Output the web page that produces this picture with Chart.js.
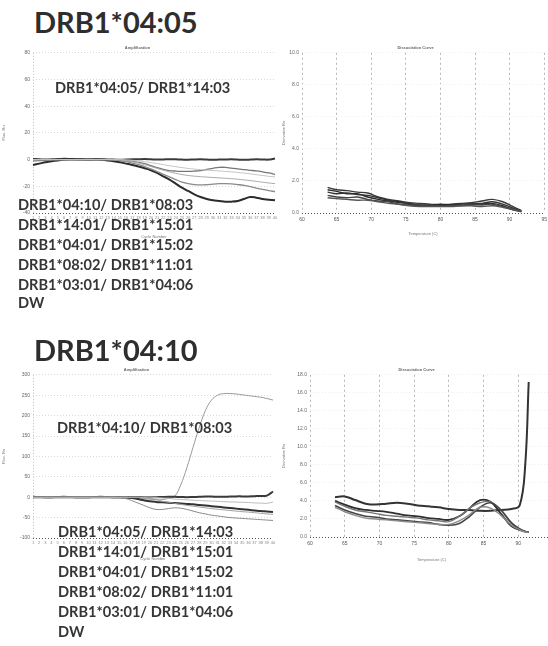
<!DOCTYPE html>
<html>
<head>
<meta charset="utf-8">
<script src="https://cdn.jsdelivr.net/npm/chart.js@4"></script>
<style>
  html, body { margin: 0; padding: 0; background: #fff; }
  body { width: 548px; height: 646px; position: relative; overflow: hidden; font-family: Lato, "Open Sans", sans-serif; }
  canvas { position: absolute; }
  .big { position: absolute; font-weight: 700; color: #2e2e2e; font-size: 29px; line-height: 35px; white-space: nowrap; }
  .lbl { position: absolute; font-weight: 700; color: #363636; font-size: 14.6px; line-height: 20px; white-space: nowrap; }
</style>
</head>
<body>
<canvas id="ampTop" width="280" height="200" style="left:0;top:40px"></canvas>
<canvas id="meltTop" width="271" height="200" style="left:280px;top:40px"></canvas>
<canvas id="ampBot" width="280" height="200" style="left:0;top:362px"></canvas>
<canvas id="meltBot" width="280" height="204" style="left:280px;top:362px"></canvas>

<div class="big" style="left:34px;top:4px">DRB1*04:05</div>
<div class="lbl" style="left:55px;top:78px">DRB1*04:05/ DRB1*14:03</div>
<div class="lbl" style="left:18px;top:195px">DRB1*04:10/ DRB1*08:03</div>
<div class="lbl" style="left:18px;top:215px">DRB1*14:01/ DRB1*15:01</div>
<div class="lbl" style="left:18px;top:235px">DRB1*04:01/ DRB1*15:02</div>
<div class="lbl" style="left:18px;top:255px">DRB1*08:02/ DRB1*11:01</div>
<div class="lbl" style="left:18px;top:275px">DRB1*03:01/ DRB1*04:06</div>
<div class="lbl" style="left:18px;top:293px">DW</div>

<div class="big" style="left:34px;top:332px">DRB1*04:10</div>
<div class="lbl" style="left:57px;top:418px">DRB1*04:10/ DRB1*08:03</div>
<div class="lbl" style="left:58px;top:522px">DRB1*04:05/ DRB1*14:03</div>
<div class="lbl" style="left:58px;top:542px">DRB1*14:01/ DRB1*15:01</div>
<div class="lbl" style="left:58px;top:562px">DRB1*04:01/ DRB1*15:02</div>
<div class="lbl" style="left:58px;top:582px">DRB1*08:02/ DRB1*11:01</div>
<div class="lbl" style="left:58px;top:602px">DRB1*03:01/ DRB1*04:06</div>
<div class="lbl" style="left:58px;top:622px">DW</div>

<script>
// cycles and ticks
const cycles = [1,2,3,4,5,6,7,8,9,10,11,12,13,14,15,16,17,18,19,20,21,22,23,24,25,26,27,28,29,30,31,32,33,34,35,36,37,38,39,40];
const ampTopYTicks = [-40, -20, 0, 20, 40, 60, 80];
const ampBotYTicks = [-100, -50, 0, 50, 100, 150, 200, 250, 300];
const meltXTicks = [60, 65, 70, 75, 80, 85, 90, 95];
const meltTopYTicks = [0, 2, 4, 6, 8, 10];
const meltBotYTicks = [0, 2, 4, 6, 8, 10, 12, 14, 16, 18];

// DRB1*04:05 amplification
const ampTopFlat = [0.5,0.3,0,0.2,0.4,0.6,0.5,0.3,0.2,0,0.2,0.3,0.1,0,-0.2,0,0.2,0.3,0.4,0.2,0,0.1,0.3,0.2,0,-0.1,0.1,0.2,0,-0.2,0,0.1,0.2,0,-0.1,0,0.2,0.1,0,0.8];
const ampTopDark = [-4,-3,-2,-1.2,-0.6,-0.2,0,0,0,0,0,-0.2,-0.6,-1.2,-2,-3,-4,-5.2,-6.5,-8,-10,-12.5,-15,-18,-21,-23.5,-26,-28,-29.5,-30.5,-31,-31.5,-31.5,-31,-29.5,-28,-28.5,-29.5,-30,-30.5];
const ampTopMid = [-1,-0.8,-0.5,-0.2,0,0,0,0,0,0,0,0,0,-0.2,-0.4,-0.8,-1.3,-2,-3,-4.5,-6,-7.3,-8.2,-8.6,-8.8,-8.8,-8.6,-8.2,-7.4,-6.5,-5.8,-5.8,-6.4,-7,-7.5,-8,-8.5,-9.2,-10,-11];
const ampTopLow = [0,0,0,0,0,0,0,0,0,0,0,0,0,-0.3,-0.8,-1.6,-2.6,-3.8,-5.2,-7,-9,-11,-13,-15,-16.8,-18,-18.7,-19,-18.8,-18.3,-18,-18,-18.2,-18.7,-19.3,-20.2,-21.3,-22.3,-23.2,-24];
const ampTopLight = [0,0,0,0,0,0,0,0,0,0,0,0,0,0,-0.3,-0.8,-1.6,-2.6,-3.8,-5.2,-6.6,-8,-9.2,-10.3,-11.2,-11.9,-12.4,-12.8,-13.1,-13.4,-13.7,-14,-14.3,-14.7,-15.2,-15.7,-16.3,-16.9,-17.5,-18];
const ampTopFaint = [0,0,0,0,0,0,0,0,0,0,0,0,0,0,0,-0.2,-0.5,-1,-1.6,-2.3,-3,-3.8,-4.6,-5.3,-6,-6.6,-7.1,-7.5,-7.9,-8.2,-8.5,-8.8,-9.2,-9.6,-10.1,-10.7,-11.3,-11.9,-12.5,-13];

// DRB1*04:10 amplification
const ampBotRise = [0,0,0,0,0,0,0,0,0,0,0,0,0,0,0,-1,-2,-3,-4,-5,-6,-6,-3,2,30,72,122,170,212,238,250,254,254,253,251,249,247,245,242,238];
const ampBotFlat = [1,0.5,0,0,0.5,1,0.5,0,0,0,0.5,1,0.5,0,0,0,0.5,0.5,0,0,0,0.5,1,1,0.5,0,0.5,1,1.5,1.5,1,1,1.5,2,2,2,2.5,3,4,14];
const ampBotDark = [0,0,0,0,0,0,0,0,0,0,0,0,0,0,0,-0.5,-2,-4.5,-7.5,-10,-11.5,-12.5,-13.5,-14.5,-15.5,-16.5,-17.5,-19,-20.5,-22,-23.5,-25,-26.5,-28,-29.5,-31,-32.5,-34,-35,-36];
const ampBotDip = [0,0,0,0,0,0,0,0,0,0,0,0,0,0,-1,-3,-8,-14,-20,-26,-30,-30,-28,-26,-27,-30,-34,-38,-41,-44,-46,-48,-50,-51,-52,-53,-54,-55,-56,-57];
const ampBotLight = [0,0,0,0,0,0,0,0,0,0,0,0,0,0,0,0,0,0,-1,-3,-6,-10,-12.5,-15,-17.5,-20,-22,-24,-26,-28,-29.5,-31,-32.5,-34,-35.5,-36.5,-38,-39.5,-41,-42];
const ampBotFaint = [0,0,0,0,0,0,0,0,0,0,0,0,0,0,0,0,0,0,0,0,-1,-2,-3,-4.5,-5.5,-6.5,-7.5,-8,-9,-9.5,-10,-11,-11.5,-12,-12.5,-13,-14,-14.5,-15,-12];

// DRB1*04:05 dissociation
const meltTopTemps = [63.7,65,66.5,68,69.5,71,72.5,74,75.5,77,78.5,80,81.5,83,84.5,86,87.5,89,90.5,91.7];
const meltTop1 = [1.6,1.45,1.4,1.3,1.25,1.0,0.85,0.75,0.65,0.6,0.55,0.5,0.55,0.6,0.65,0.75,0.85,0.7,0.4,0.15];
const meltTop2 = [1.3,1.2,1.25,1.15,1.1,0.95,0.8,0.65,0.6,0.5,0.45,0.45,0.5,0.55,0.6,0.6,0.7,0.55,0.3,0.1];
const meltTop3 = [1.1,1.0,0.95,1.0,0.85,0.75,0.7,0.55,0.5,0.5,0.5,0.45,0.45,0.5,0.55,0.5,0.55,0.4,0.25,0.1];
const meltTop4 = [1.45,1.35,1.2,1.2,1.0,0.85,0.75,0.7,0.55,0.45,0.5,0.55,0.5,0.45,0.5,0.55,0.6,0.45,0.2,0.1];
const meltTop5 = [0.95,0.9,0.85,0.8,0.8,0.7,0.6,0.55,0.45,0.4,0.4,0.4,0.4,0.45,0.45,0.4,0.45,0.35,0.2,0.08];

// DRB1*04:10 dissociation
const meltBotTemps = [63.6,65,66.5,68,69.5,71,72.5,74,75.5,77,78.5,80,81.5,83,84.5,86,87.5,89,90.2,91,91.5];
const meltBotPos = [4.4,4.5,4.1,3.7,3.6,3.7,3.8,3.7,3.5,3.4,3.3,3.1,3.0,3.0,2.9,2.9,3.0,3.1,3.5,8.0,17.2];
const meltBot1 = [4.0,3.6,3.2,3.0,2.9,2.8,2.6,2.4,2.3,2.1,2.0,1.9,2.3,3.2,4.1,3.9,2.6,1.2,0.8,0.6,0.55];
const meltBot2 = [3.9,3.4,3.0,2.8,2.6,2.4,2.3,2.2,2.1,1.9,1.8,1.7,2.3,3.2,3.8,3.9,3.0,1.5,0.9,0.6,0.55];
const meltBot3 = [3.5,3.0,2.6,2.3,2.2,2.0,1.9,1.8,1.7,1.6,1.4,1.3,1.5,2.3,3.3,3.8,3.0,1.6,0.9,0.6,0.55];
const meltBot4 = [3.3,2.8,2.4,2.1,2.0,1.9,1.8,1.7,1.6,1.5,1.4,1.4,1.8,2.5,3.3,3.2,2.4,1.3,0.8,0.55,0.5];

Chart.defaults.font.family = '"Liberation Sans", sans-serif';
Chart.defaults.color = '#777';
Chart.defaults.animation = false;

function line(data, color, width) {
    return { data: data, borderColor: color, borderWidth: width, pointRadius: 0, tension: 0.4, fill: false };
}
function pts(temps, vals) {
    return temps.map((t, i) => ({ x: t, y: vals[i] }));
}
function tickSet(list) {
    return scale => { scale.ticks = list.map(v => ({ value: v })); };
}
function titleOpts(text) {
    return { display: true, text: text, color: '#666', font: { size: 4 }, padding: { top: 5, bottom: 3 } };
}

// amplification plot options
function ampOptions(title, yTicks, xHeight, padRight) {
    return {
        responsive: false,
        layout: { padding: { right: padRight } },
        plugins: { legend: { display: false }, title: titleOpts(title), tooltip: { enabled: false } },
        scales: {
            x: {
                ticks: { font: { size: 4 }, autoSkip: false, maxRotation: 0, padding: 2, color: '#888' },
                grid: { color: c => c.index === 0 ? '#bbb' : 'rgba(0,0,0,0)', drawTicks: false },
                border: { display: false, dash: [1, 2] },
                title: { display: true, text: 'Cycle Number', font: { size: 4 }, padding: 1, color: '#777' },
                afterFit: s => { s.height = xHeight; }
            },
            y: {
                min: yTicks[0], max: yTicks[yTicks.length - 1],
                afterBuildTicks: tickSet(yTicks),
                ticks: { font: { size: 5 }, padding: 3, color: '#666' },
                grid: { color: c => c.tick && c.tick.value === yTicks[0] ? '#555' : '#dadada', drawTicks: false },
                border: { display: false, dash: [1, 2] },
                title: { display: true, text: 'Fluo. Rn', font: { size: 4 }, padding: 1, color: '#777' },
                afterFit: s => { s.width = 33; }
            }
        }
    };
}

// dissociation plot options
function meltOptions(yTicks, yWidth, xHeight, padRight) {
    return {
        responsive: false,
        layout: { padding: { right: padRight } },
        plugins: { legend: { display: false }, title: titleOpts('Dissociation Curve'), tooltip: { enabled: false } },
        scales: {
            x: {
                type: 'linear', min: 60, max: 95,
                afterBuildTicks: tickSet(meltXTicks),
                ticks: { font: { size: 5 }, padding: 4, color: '#555' },
                grid: { color: '#b5b5b5', drawTicks: false },
                border: { display: false, dash: [2, 3] },
                title: { display: true, text: 'Temperature (C)', font: { size: 4 }, padding: 4, color: '#777' },
                afterFit: s => { s.height = xHeight; }
            },
            y: {
                min: yTicks[0], max: yTicks[yTicks.length - 1],
                afterBuildTicks: tickSet(yTicks),
                ticks: { font: { size: 5 }, padding: 3, color: '#666', callback: v => v.toFixed(1) },
                grid: { color: c => c.tick && c.tick.value === yTicks[0] ? '#555' : '#efefef', drawTicks: false },
                border: { display: false, dash: [1, 2] },
                title: { display: true, text: 'Derivative Rn', font: { size: 4 }, padding: 1, color: '#777' },
                afterFit: s => { s.width = yWidth; }
            }
        }
    };
}

new Chart(document.getElementById('ampTop'), {
    type: 'line',
    data: {
        labels: cycles,
        datasets: [
            line(ampTopFaint, '#c4c4c4', 1),
            line(ampTopLight, '#aaaaaa', 1),
            line(ampTopLow, '#8a8a8a', 1.3),
            line(ampTopMid, '#777777', 1.3),
            line(ampTopDark, '#2c2c2c', 2),
            line(ampTopFlat, '#3a3a3a', 2)
        ]
    },
    options: ampOptions('Amplification', ampTopYTicks, 27, 5)
});

new Chart(document.getElementById('meltTop'), {
    type: 'line',
    data: {
        datasets: [
            line(pts(meltTopTemps, meltTop5), '#555555', 1.4),
            line(pts(meltTopTemps, meltTop3), '#444444', 1.4),
            line(pts(meltTopTemps, meltTop2), '#333333', 1.4),
            line(pts(meltTopTemps, meltTop4), '#2a2a2a', 1.4),
            line(pts(meltTopTemps, meltTop1), '#3a3a3a', 1.4)
        ]
    },
    options: meltOptions(meltTopYTicks, 22, 27, 0)
});

new Chart(document.getElementById('ampBot'), {
    type: 'line',
    data: {
        labels: cycles,
        datasets: [
            line(ampBotFaint, '#bbbbbb', 1),
            line(ampBotLight, '#a0a0a0', 1),
            line(ampBotDip, '#8a8a8a', 1),
            line(ampBotDark, '#333333', 2),
            line(ampBotFlat, '#3a3a3a', 2),
            line(ampBotRise, '#9a9a9a', 1)
        ]
    },
    options: ampOptions('Amplification', ampBotYTicks, 24, 7)
});

new Chart(document.getElementById('meltBot'), {
    type: 'line',
    data: {
        datasets: [
            line(pts(meltBotTemps, meltBot4), '#8a8a8a', 1.4),
            line(pts(meltBotTemps, meltBot3), '#444444', 1.6),
            line(pts(meltBotTemps, meltBot2), '#777777', 1.4),
            line(pts(meltBotTemps, meltBot1), '#2f2f2f', 1.8),
            line(pts(meltBotTemps, meltBotPos), '#333333', 2)
        ]
    },
    options: meltOptions(meltBotYTicks, 30, 29, 7)
});
</script>
</body>
</html>
